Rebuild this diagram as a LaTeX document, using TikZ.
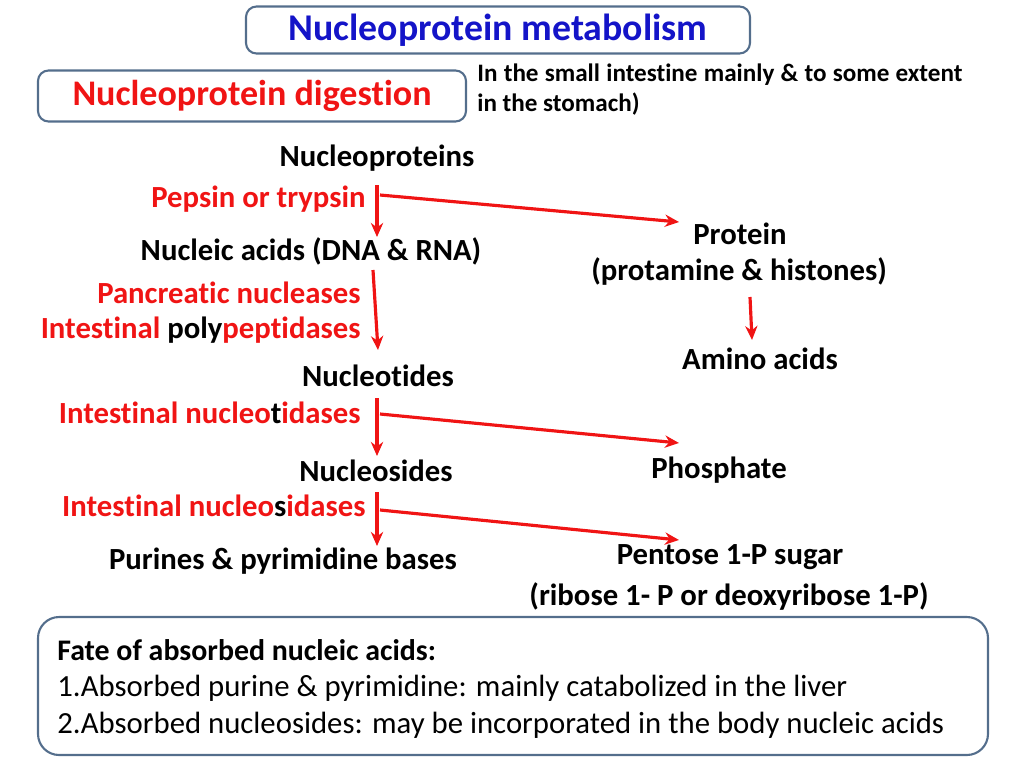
\documentclass[tikz,border=0pt]{standalone}
\usepackage{fontspec}
\setmainfont{Carlito}[Ligatures={NoCommon}]
\usetikzlibrary{arrows.meta}
\definecolor{boxline}{RGB}{84,110,140}
\definecolor{titleblue}{RGB}{20,20,200}
\definecolor{enzred}{RGB}{240,20,20}
\tikzset{
  lbl/.style={font=\bfseries\fontsize{17.5}{20}\selectfont, inner sep=0pt},
  enz/.style={lbl, text=enzred, anchor=east},
  step arrow/.style={-{Stealth[length=8pt,width=7pt]}, line width=1.8pt, enzred},
  roundbox/.style={draw=boxline, line width=1.2pt, rounded corners=6pt}
}
\begin{document}
\begin{tikzpicture}[x=0.02cm, y=-0.02cm]
\useasboundingbox (0,0) rectangle (1024,768);

\node[roundbox, minimum width=504*0.02cm, minimum height=47*0.02cm, text=titleblue, font=\bfseries\fontsize{21.5}{24}\selectfont] (title) at (498,30) {Nucleoprotein metabolism};
\node[roundbox, minimum width=428*0.02cm, minimum height=51*0.02cm, text=enzred, font=\bfseries\fontsize{20.5}{24}\selectfont] (digest) at (252,96) {Nucleoprotein digestion};
\node[lbl, font=\bfseries\fontsize{14.3}{17}\selectfont, anchor=west, text width=485*0.02cm, align=justify] (site) at (477,101) {In the small intestine mainly \& to some extent in the stomach)\\[-2pt]};

% main chain
\node[lbl] (np) at (377,158) {Nucleoproteins};
\node[enz] (pepsin) at (366,199) {Pepsin or trypsin};
\node[lbl] (na) at (311,251) {Nucleic acids (DNA \& RNA)};
\node[enz] (panc) at (361,293) {Pancreatic nucleases};
\node[enz] (poly) at (361,330) {Intestinal \textcolor{black}{poly}peptidases};
\node[lbl] (nt) at (378,376) {Nucleotides};
\node[enz] (ntase) at (361,413) {Intestinal nucleo\textcolor{black}{t}idases};
\node[lbl] (ns) at (376,471) {Nucleosides};
\node[enz] (nsase) at (366,506) {Intestinal nucleo\textcolor{black}{s}idases};
\node[lbl] (bases) at (283,561) {Purines \& pyrimidine bases};

% side products
\node[lbl] (prot) at (740,234) {Protein};
\node[lbl] (prot2) at (739,271) {(protamine \& histones)};
\node[lbl] (aa) at (760,359) {Amino acids};
\node[lbl] (phos) at (719,470) {Phosphate};
\node[lbl] (pent) at (730,557) {Pentose 1-P sugar};
\node[lbl] (pent2) at (729,596) {(ribose 1- P or deoxyribose 1-P)};

\coordinate (a1) at (377,185); \coordinate (a2) at (380,195);
\coordinate (b1) at (373,270); \coordinate (b2) at (378,350);
\coordinate (c1) at (377,398); \coordinate (c2) at (380,414);
\coordinate (d1) at (377,492); \coordinate (d2) at (380,510);
\coordinate (e1) at (750,297);

\draw[step arrow] (a1) -- (377,237);
\draw[step arrow] (a2) -- (679,222);
\draw[step arrow] (b1) -- (b2);
\draw[step arrow] (e1) -- (752,340);
\draw[step arrow] (c1) -- (377,456);
\draw[step arrow] (c2) -- (679,443);
\draw[step arrow] (d1) -- (377,546);
\draw[step arrow] (d2) -- (679,540);

% fate box
\node[roundbox, rounded corners=12pt, minimum width=950*0.02cm, minimum height=138*0.02cm] (fate) at (513,686) {};
\node[lbl, font=\bfseries\fontsize{17}{20}\selectfont, anchor=west] (f0) at (57,650) {Fate of absorbed nucleic acids:};
\node[lbl, font=\fontsize{17.5}{20}\selectfont, anchor=west] (f1) at (57,688) {1.Absorbed purine \& pyrimidine: mainly catabolized in the liver};
\node[lbl, font=\fontsize{17.5}{20}\selectfont, anchor=west] (f2) at (57,725) {2.Absorbed nucleosides: may be incorporated in the body nucleic acids};
\end{tikzpicture}
\end{document}
